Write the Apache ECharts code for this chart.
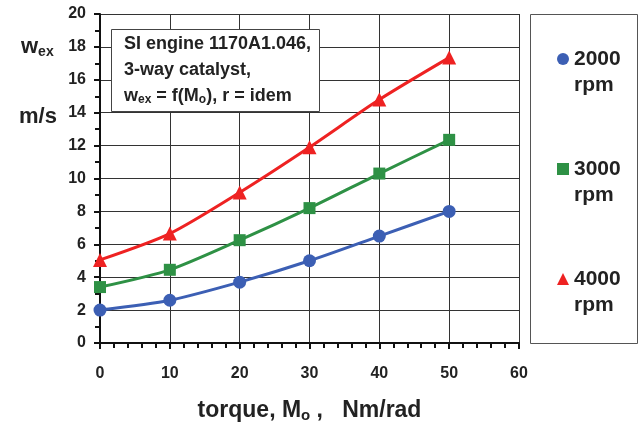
<!DOCTYPE html>
<html>
<head>
<meta charset="utf-8">
<script src="https://cdn.jsdelivr.net/npm/echarts@6/dist/echarts.min.js"></script>
<style>
  html, body { margin: 0; padding: 0; background: #fff; }
  #chart { width: 640px; height: 423px; }
</style>
</head>
<body>
<div id="chart"></div>
<script>
const torque = [0, 10, 20, 30, 40, 50]
const rpm2000 = [2.0, 2.6, 3.7, 5.0, 6.5, 8.0]
const rpm3000 = [3.4, 4.45, 6.25, 8.2, 10.3, 12.35]
const rpm4000 = [5.05, 6.65, 9.15, 11.9, 14.8, 17.35]
const seriesNames = ['2000 rpm', '3000 rpm', '4000 rpm']

const font = 'Liberation Sans'
const ink = '#222'

const toPairs = (ys) => torque.map((x, i) => [x, ys[i]])

const chart = echarts.init(document.getElementById('chart'))

const lineSeries = (name, ys, color, symbol, size) => ({
  name,
  type: 'line',
  data: toPairs(ys),
  smooth: 0.25,
  symbol,
  symbolSize: size,
  lineStyle: { color, width: 3 },
  itemStyle: { color },
  z: 3,
})

const option = {
  animation: false,
  grid: { left: 100, right: 121, top: 14, bottom: 80, outerBoundsMode: 'none' },
  title: [
    {
      text: '{a|SI engine 1170A1.046,}\n{a|3-way catalyst,}\n{a|w}{s|ex}{a| = f(M}{s|o}{a|), r = idem}',
      left: 111,
      top: 25,
      padding: [6, 9, 6, 13],
      borderColor: '#444',
      borderWidth: 1,
      backgroundColor: '#fff',
      textStyle: {
        rich: {
          a: { fontFamily: font, fontWeight: 'bold', fontSize: 18, color: ink, lineHeight: 26 },
          s: { fontFamily: font, fontWeight: 'bold', fontSize: 12, color: ink, lineHeight: 26, padding: [8, 0, 0, 0] },
        },
      },
      z: 10,
    },
    {
      text: '{a|w}{s|ex}',
      left: 16,
      top: 30,
      textStyle: {
        rich: {
          a: { fontFamily: font, fontWeight: 'bold', fontSize: 22, color: ink },
          s: { fontFamily: font, fontWeight: 'bold', fontSize: 14, color: ink, padding: [10, 0, 0, 0] },
        },
      },
    },
    {
      text: 'm/s',
      left: 14,
      top: 101,
      textStyle: { fontFamily: font, fontWeight: 'bold', fontSize: 22, color: ink },
    },
  ],
  graphic: [
    {
      type: 'rect',
      shape: { x: 530.5, y: 14.5, width: 107, height: 329 },
      style: { fill: '#fff', stroke: '#555', lineWidth: 1 },
      z: 0,
    },
  ],
  legend: {
    orient: 'vertical',
    left: 552,
    top: 15,
    itemGap: 32,
    itemWidth: 12,
    itemHeight: 12,
    formatter: (name) => ' \n' + name.replace(' ', '\n'),
    textStyle: {
      fontFamily: font,
      fontWeight: 'bold',
      fontSize: 21,
      color: ink,
      lineHeight: 26,
    },
    data: [
      { name: seriesNames[0], icon: 'circle' },
      { name: seriesNames[1], icon: 'rect' },
      { name: seriesNames[2], icon: 'triangle' },
    ],
  },
  xAxis: {
    type: 'value',
    min: 0,
    max: 60,
    interval: 10,
    name: '{a|torque, M}{s|o}{a| ,   Nm/rad}',
    nameLocation: 'middle',
    nameGap: 55,
    nameTextStyle: {
      rich: {
        a: { fontFamily: font, fontWeight: 'bold', fontSize: 23, color: ink },
        s: { fontFamily: font, fontWeight: 'bold', fontSize: 15, color: ink, padding: [10, 0, 0, 0] },
      },
    },
    axisLine: { lineStyle: { color: '#111', width: 2 } },
    axisTick: { show: true, length: 6, lineStyle: { color: '#111', width: 2 } },
    minorTick: { show: true, splitNumber: 5, length: 5, lineStyle: { color: '#111', width: 2 } },
    axisLabel: { fontFamily: font, fontWeight: 'bold', fontSize: 16, color: ink, margin: 23 },
    splitLine: { show: true, lineStyle: { color: '#333', width: 1 } },
  },
  yAxis: {
    type: 'value',
    min: 0,
    max: 20,
    interval: 2,
    axisLine: { show: true, lineStyle: { color: '#111', width: 2 } },
    axisTick: { show: true, length: 6, lineStyle: { color: '#111', width: 2 } },
    minorTick: { show: true, splitNumber: 2, length: 5, lineStyle: { color: '#111', width: 2 } },
    axisLabel: { fontFamily: font, fontWeight: 'bold', fontSize: 16, color: ink, margin: 14 },
    splitLine: { show: true, lineStyle: { color: '#333', width: 1 } },
  },
  series: [
    lineSeries(seriesNames[0], rpm2000, '#3c5fb4', 'circle', 13),
    lineSeries(seriesNames[1], rpm3000, '#2e9145', 'rect', 12),
    lineSeries(seriesNames[2], rpm4000, '#ee2222', 'triangle', 14),
  ],
}

chart.setOption(option)
</script>
</body>
</html>
